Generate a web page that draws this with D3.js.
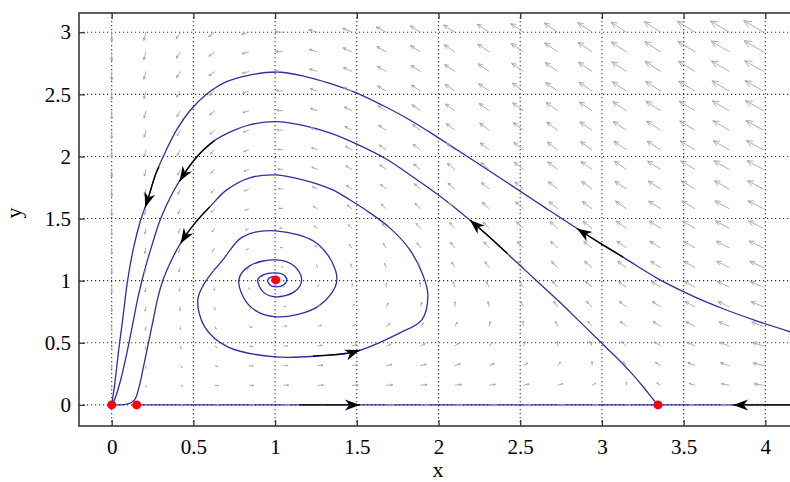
<!DOCTYPE html>
<html>
<head>
<meta charset="utf-8">
<script src="https://cdn.jsdelivr.net/npm/d3@7/dist/d3.min.js"></script>
<style>
  body { margin: 0; background: #fff; }
  text { font-family: "Liberation Serif", "Times New Roman", serif; }
</style>
</head>
<body>
<div id="chart"></div>
<script>
var svgWidth = 790;
var svgHeight = 482;

// plot box (right side runs off the picture, like the original)
var margin = { top: 13, left: 79 };
var width = 719;
var height = 413;

// tick labels
var xTicks = [0, 0.5, 1, 1.5, 2, 2.5, 3, 3.5, 4];
var yTicks = [0, 0.5, 1, 1.5, 2, 2.5, 3];

// equilibrium points
var equilibria = [[0, 0], [0.153, 0], [3.343, 0], [1.004, 1.006]];

// trajectories, in the direction of motion
var outerPath = [
  [4.152, 0.588], [3.95, 0.675], [3.75, 0.77], [3.55, 0.88], [3.35, 1.01],
  [3.129, 1.19], [2.884, 1.39], [2.65, 1.59], [2.42, 1.79], [2.2, 1.98],
  [2.0, 2.15], [1.83, 2.29], [1.66, 2.41], [1.5, 2.51], [1.33, 2.59],
  [1.18, 2.645], [1.01, 2.68], [0.845, 2.655], [0.70, 2.60], [0.58, 2.50],
  [0.48, 2.37], [0.40, 2.22], [0.33, 2.04], [0.27, 1.86], [0.22, 1.65],
  [0.178, 1.49], [0.135, 1.272], [0.098, 1.006], [0.067, 0.684], [0.043, 0.443],
  [0.018, 0.161], [0, 0]
];

var saddlePath = [
  [3.343, 0], [3.31, 0.05], [3.25, 0.15], [3.15, 0.30], [3.02, 0.47],
  [2.88, 0.65], [2.74, 0.83], [2.60, 1.00], [2.46, 1.17], [2.33, 1.33],
  [2.19, 1.49], [2.03, 1.66], [1.86, 1.82], [1.68, 1.98], [1.50, 2.10],
  [1.335, 2.19], [1.17, 2.25], [1.01, 2.28], [0.845, 2.255], [0.73, 2.20],
  [0.62, 2.12], [0.53, 2.01], [0.447, 1.868], [0.37, 1.70], [0.30, 1.50],
  [0.25, 1.30], [0.205, 1.10], [0.165, 0.89], [0.13, 0.66], [0.095, 0.43],
  [0.055, 0.20], [0.02, 0.05], [0, 0]
];

var spiralPath = [
  [1.004, 1.006], [1.004, 1.031], [0.980, 1.031], [0.955, 1.006], [0.969, 0.966],
  [1.004, 0.950], [1.052, 0.966], [1.072, 1.006], [1.052, 1.047], [1.004, 1.063],
  [0.927, 1.047], [0.894, 1.006], [0.927, 0.910], [1.004, 0.870], [1.117, 0.910],
  [1.163, 1.006], [1.117, 1.119], [1.004, 1.167], [0.844, 1.119], [0.778, 1.006],
  [0.844, 0.797], [1.004, 0.709], [1.268, 0.797], [1.378, 1.006], [1.268, 1.288],
  [1.004, 1.401], [0.802, 1.353], [0.680, 1.167], [0.569, 0.982], [0.527, 0.845],
  [0.569, 0.628], [0.710, 0.467], [1.004, 0.386], [1.274, 0.395], [1.488, 0.427],
  [1.764, 0.580], [1.898, 0.684], [1.935, 0.886], [1.904, 1.047], [1.825, 1.248],
  [1.702, 1.425], [1.580, 1.546], [1.457, 1.651], [1.353, 1.731], [1.170, 1.812],
  [1.004, 1.852], [0.845, 1.828], [0.704, 1.731], [0.60, 1.594], [0.52, 1.48],
  [0.45, 1.36], [0.395, 1.24], [0.35, 1.12], [0.31, 0.99], [0.28, 0.85],
  [0.255, 0.69], [0.225, 0.50], [0.195, 0.31], [0.165, 0.13], [0.14, 0.04],
  [0.10, 0.008], [0.05, 0], [0, 0]
];

var axisRight = [[0.153, 0], [3.343, 0]];
var axisLeft = [[4.2, 0], [3.343, 0]];

// black direction arrows, drawn along the trajectory; last point is the tip
var arrowMarks = [
  [[1.151, 0], [1.519, 0]],
  [[1.231, 0.393], [1.36, 0.405], [1.488, 0.427], [1.519, 0.441]],
  [[4.152, 0], [3.803, 0]],
  [[2.42, 1.22], [2.33, 1.33], [2.192, 1.488]],
  [[3.129, 1.19], [2.99, 1.30], [2.847, 1.42]],
  [[0.289, 1.916], [0.27, 1.86], [0.22, 1.65], [0.205, 1.59]],
  [[0.63, 2.128], [0.53, 2.01], [0.447, 1.868], [0.415, 1.80]],
  [[0.60, 1.594], [0.52, 1.48], [0.45, 1.36], [0.422, 1.30]]
];

// direction field grid
var quiverX = [0, 0.21, 0.42, 0.63, 0.84, 1.05, 1.26, 1.47, 1.68, 1.89,
  2.1, 2.31, 2.52, 2.73, 2.94, 3.15, 3.36, 3.57, 3.78, 3.99];
var quiverY = [0, 0.158, 0.316, 0.474, 0.632, 0.789, 0.947, 1.105, 1.263, 1.421,
  1.579, 1.737, 1.895, 2.053, 2.211, 2.368, 2.526, 2.684, 2.842, 3];

// field components, one row per quiverY value
var quiverU = [
  [0, .05, .27, .53, .80, 1.06, 1.28, 1.47, 1.60, 1.68, 1.68, 1.62, 1.47, 1.24, .91, .50, -.03, -.65, -1.39, -2.24],
  [0, .01, .20, .43, .67, .89, 1.08, 1.24, 1.34, 1.38, 1.35, 1.25, 1.07, .81, .45, 0, -.56, -1.22, -1.99, -2.87],
  [0, -.02, .14, .34, .54, .73, .89, 1.0, 1.07, 1.08, 1.02, .89, .67, .38, -.01, -.5, -1.09, -1.78, -2.58, -3.5],
  [0, -.05, .07, .24, .41, .56, .69, .77, .81, .78, .69, .52, .28, -.06, -.48, -1.0, -1.62, -2.34, -3.18, -4.13],
  [0, -.08, .01, .14, .27, .39, .49, .54, .54, .48, .36, .16, -.12, -.49, -.94, -1.49, -2.15, -2.91, -3.78, -4.76],
  [0, -.12, -.06, .04, .14, .23, .29, .31, .27, .18, .03, -.21, -.52, -.92, -1.41, -1.99, -2.68, -3.47, -4.38, -5.39],
  [0, -.15, -.13, -.06, .01, .06, .09, .07, .01, -.12, -.31, -.57, -.92, -1.35, -1.87, -2.49, -3.21, -4.04, -4.97, -6.02],
  [0, -.18, -.19, -.16, -.13, -.1, -.11, -.16, -.26, -.41, -.64, -.94, -1.32, -1.78, -2.34, -2.99, -3.74, -4.6, -5.57, -6.65],
  [0, -.22, -.26, -.26, -.26, -.27, -.31, -.39, -.52, -.71, -.97, -1.3, -1.71, -2.21, -2.8, -3.48, -4.27, -5.16, -6.17, -7.28],
  [0, -.25, -.33, -.36, -.39, -.44, -.51, -.62, -.79, -1.01, -1.3, -1.67, -2.11, -2.64, -3.26, -3.98, -4.8, -5.73, -6.76, -7.91],
  [0, -.28, -.39, -.46, -.52, -.6, -.71, -.85, -1.05, -1.31, -1.63, -2.03, -2.51, -3.07, -3.73, -4.48, -5.33, -6.29, -7.36, -8.54],
  [0, -.32, -.46, -.56, -.66, -.77, -.9, -1.09, -1.32, -1.61, -1.96, -2.39, -2.91, -3.51, -4.19, -4.98, -5.86, -6.85, -7.96, -9.17],
  [0, -.35, -.52, -.66, -.79, -.93, -1.1, -1.32, -1.58, -1.91, -2.3, -2.76, -3.31, -3.94, -4.66, -5.47, -6.39, -7.42, -8.55, -9.8],
  [0, -.38, -.59, -.76, -.92, -1.1, -1.3, -1.55, -1.85, -2.2, -2.63, -3.12, -3.7, -4.37, -5.12, -5.97, -6.92, -7.98, -9.15, -10.43],
  [0, -.42, -.66, -.86, -1.05, -1.26, -1.5, -1.78, -2.11, -2.5, -2.96, -3.49, -4.1, -4.8, -5.59, -6.47, -7.45, -8.55, -9.75, -11.06],
  [0, -.45, -.72, -.96, -1.19, -1.43, -1.7, -2.01, -2.38, -2.8, -3.29, -3.85, -4.5, -5.23, -6.05, -6.97, -7.98, -9.11, -10.34, -11.69],
  [0, -.48, -.79, -1.06, -1.32, -1.6, -1.9, -2.25, -2.64, -3.1, -3.62, -4.22, -4.9, -5.66, -6.51, -7.46, -8.52, -9.67, -10.94, -12.32],
  [0, -.52, -.86, -1.16, -1.45, -1.76, -2.1, -2.48, -2.91, -3.4, -3.95, -4.58, -5.3, -6.09, -6.98, -7.96, -9.05, -10.24, -11.54, -12.95],
  [0, -.55, -.92, -1.26, -1.58, -1.93, -2.3, -2.71, -3.17, -3.7, -4.28, -4.95, -5.69, -6.52, -7.44, -8.46, -9.58, -10.8, -12.13, -13.58],
  [0, -.58, -.99, -1.36, -1.72, -2.09, -2.5, -2.94, -3.44, -3.99, -4.62, -5.31, -6.09, -6.95, -7.91, -8.96, -10.11, -11.36, -12.73, -14.21]
];

var quiverV = [
  [0, 0, 0, 0, 0, 0, 0, 0, 0, 0, 0, 0, 0, 0, 0, 0, 0, 0, 0, 0],
  [-.19, -.15, -.11, -.07, -.03, .01, .05, .09, .13, .17, .21, .25, .29, .33, .37, .41, .45, .49, .53, .57],
  [-.38, -.3, -.22, -.14, -.06, .02, .1, .18, .26, .34, .42, .5, .58, .66, .74, .81, .89, .97, 1.05, 1.13],
  [-.57, -.45, -.33, -.21, -.09, .03, .15, .27, .39, .51, .63, .74, .86, .98, 1.1, 1.22, 1.34, 1.46, 1.58, 1.7],
  [-.76, -.6, -.44, -.28, -.12, .04, .2, .36, .52, .67, .83, .99, 1.15, 1.31, 1.47, 1.63, 1.79, 1.95, 2.11, 2.27],
  [-.95, -.75, -.55, -.35, -.15, .05, .25, .45, .64, .84, 1.04, 1.24, 1.44, 1.64, 1.84, 2.04, 2.24, 2.43, 2.63, 2.83],
  [-1.14, -.9, -.66, -.42, -.18, .06, .3, .53, .77, 1.01, 1.25, 1.49, 1.73, 1.97, 2.21, 2.44, 2.68, 2.92, 3.16, 3.4],
  [-1.33, -1.05, -.77, -.49, -.21, .07, .35, .62, .9, 1.18, 1.46, 1.74, 2.02, 2.29, 2.57, 2.85, 3.13, 3.41, 3.69, 3.97],
  [-1.52, -1.2, -.88, -.56, -.24, .08, .39, .71, 1.03, 1.35, 1.67, 1.99, 2.3, 2.62, 2.94, 3.26, 3.58, 3.9, 4.21, 4.53],
  [-1.71, -1.35, -.99, -.63, -.27, .09, .44, .8, 1.16, 1.52, 1.88, 2.23, 2.59, 2.95, 3.31, 3.67, 4.02, 4.38, 4.74, 5.1],
  [-1.9, -1.5, -1.1, -.7, -.3, .1, .49, .89, 1.29, 1.69, 2.08, 2.48, 2.88, 3.28, 3.68, 4.07, 4.47, 4.87, 5.27, 5.67],
  [-2.08, -1.65, -1.21, -.77, -.33, .1, .54, .98, 1.42, 1.85, 2.29, 2.73, 3.17, 3.61, 4.04, 4.48, 4.92, 5.36, 5.79, 6.23],
  [-2.27, -1.8, -1.32, -.84, -.36, .11, .59, 1.07, 1.55, 2.02, 2.5, 2.98, 3.46, 3.93, 4.41, 4.89, 5.37, 5.84, 6.32, 6.8],
  [-2.46, -1.95, -1.43, -.91, -.39, .12, .64, 1.16, 1.67, 2.19, 2.71, 3.23, 3.74, 4.26, 4.78, 5.3, 5.81, 6.33, 6.85, 7.36],
  [-2.65, -2.1, -1.54, -.98, -.42, .13, .69, 1.25, 1.8, 2.36, 2.92, 3.47, 4.03, 4.59, 5.15, 5.7, 6.26, 6.82, 7.37, 7.93],
  [-2.84, -2.25, -1.65, -1.05, -.45, .14, .74, 1.34, 1.93, 2.53, 3.13, 3.72, 4.32, 4.92, 5.51, 6.11, 6.71, 7.3, 7.9, 8.5],
  [-3.03, -2.4, -1.76, -1.12, -.48, .15, .79, 1.43, 2.06, 2.7, 3.33, 3.97, 4.61, 5.24, 5.88, 6.52, 7.16, 7.79, 8.43, 9.06],
  [-3.22, -2.54, -1.87, -1.19, -.52, .16, .84, 1.51, 2.19, 2.87, 3.54, 4.22, 4.9, 5.57, 6.25, 6.93, 7.6, 8.28, 8.95, 9.63],
  [-3.41, -2.69, -1.98, -1.26, -.55, .17, .89, 1.6, 2.32, 3.03, 3.75, 4.47, 5.18, 5.9, 6.62, 7.33, 8.05, 8.76, 9.48, 10.2],
  [-3.6, -2.84, -2.09, -1.33, -.58, .18, .94, 1.69, 2.45, 3.2, 3.96, 4.72, 5.47, 6.23, 6.98, 7.74, 8.5, 9.25, 10.01, 10.76]
];

var svg = d3.select("#chart")
  .append("svg")
  .attr("width", svgWidth)
  .attr("height", svgHeight);

svg.append("defs").append("clipPath")
  .attr("id", "plotClip")
  .append("rect")
  .attr("width", width)
  .attr("height", height);

var chartGroup = svg.append("g")
  .attr("transform", `translate(${margin.left}, ${margin.top})`);

var xScale = d3.scaleLinear().domain([-0.2, 4.2]).range([0, width]);
var yScale = d3.scaleLinear().domain([-0.17, 3.155]).range([height, 0]);

// dotted grid
chartGroup.append("g").selectAll("line")
  .data(xTicks)
  .enter()
  .append("line")
  .attr("x1", d => xScale(d)).attr("x2", d => xScale(d))
  .attr("y1", 0).attr("y2", height)
  .attr("stroke", "#333")
  .attr("stroke-width", 1.1)
  .attr("stroke-dasharray", "1.2,2.8");

chartGroup.append("g").selectAll("line")
  .data(yTicks)
  .enter()
  .append("line")
  .attr("x1", 0).attr("x2", width)
  .attr("y1", d => yScale(d)).attr("y2", d => yScale(d))
  .attr("stroke", "#333")
  .attr("stroke-width", 1.1)
  .attr("stroke-dasharray", "1.2,2.8");

var plot = chartGroup.append("g").attr("clip-path", "url(#plotClip)");

// trajectories
var line = d3.line()
  .x(d => xScale(d[0]))
  .y(d => yScale(d[1]))
  .curve(d3.curveCatmullRom.alpha(0.5));

[outerPath, saddlePath, spiralPath, axisRight, axisLeft].forEach(function(path) {
  plot.append("path")
    .attr("d", line(path))
    .attr("fill", "none")
    .attr("stroke", "#2e2e9e")
    .attr("stroke-width", 1.3);
});

// direction field (quiver)
var quiverData = [];
quiverY.forEach(function(qy, i) {
  quiverX.forEach(function(qx, j) {
    var du = xScale(quiverU[i][j]) - xScale(0);
    var dv = yScale(quiverV[i][j]) - yScale(0);
    quiverData.push({ x: qx, y: qy, du: du, dv: dv, m: Math.hypot(du, dv) });
  });
});

var lenScale = d3.scaleSqrt()
  .domain([0, d3.max(quiverData, d => d.m)])
  .range([0, 23]);

function quiverPath(d) {
  if (d.m === 0) return null;
  var x0 = xScale(d.x), y0 = yScale(d.y);
  var len = lenScale(d.m);
  var ux = d.du / d.m, uy = d.dv / d.m;
  var x1 = x0 + ux * len, y1 = y0 + uy * len;
  var h = len * 0.36, a = 0.42;
  var c = Math.cos(a), s = Math.sin(a);
  var hx1 = x1 - h * (ux * c - uy * s), hy1 = y1 - h * (ux * s + uy * c);
  var hx2 = x1 - h * (ux * c + uy * s), hy2 = y1 - h * (-ux * s + uy * c);
  return `M${x0},${y0}L${x1},${y1}M${hx1},${hy1}L${x1},${y1}L${hx2},${hy2}`;
}

plot.append("g").selectAll("path")
  .data(quiverData)
  .enter()
  .append("path")
  .attr("d", quiverPath)
  .attr("fill", "none")
  .attr("stroke", "#a4a4a4")
  .attr("stroke-width", 0.9);

// black arrows on trajectories
arrowMarks.forEach(function(pts) {
  var n = pts.length;
  var x0 = xScale(pts[n - 2][0]), y0 = yScale(pts[n - 2][1]);
  var x1 = xScale(pts[n - 1][0]), y1 = yScale(pts[n - 1][1]);
  var ang = Math.atan2(y1 - y0, x1 - x0) * 180 / Math.PI;
  plot.append("path")
    .attr("d", line(pts))
    .attr("fill", "none")
    .attr("stroke", "#000")
    .attr("stroke-width", 1.3);
  plot.append("path")
    .attr("d", "M0,0L-15,-5.5L-10.5,0L-15,5.5Z")
    .attr("transform", `translate(${x1},${y1}) rotate(${ang})`)
    .attr("fill", "#000");
});

// equilibria
plot.selectAll("circle")
  .data(equilibria)
  .enter()
  .append("circle")
  .attr("cx", d => xScale(d[0]))
  .attr("cy", d => yScale(d[1]))
  .attr("r", 4.5)
  .attr("fill", "#f00");

// axes, ticks pointing inward
var bottomAxis = d3.axisBottom(xScale).tickValues(xTicks)
  .tickSizeInner(-6).tickSizeOuter(0).tickPadding(13)
  .tickFormat(d3.format("~g"));
var topAxis = d3.axisTop(xScale).tickValues(xTicks)
  .tickSizeInner(-6).tickSizeOuter(0).tickFormat("");
var leftAxis = d3.axisLeft(yScale).tickValues(yTicks)
  .tickSizeInner(-6).tickSizeOuter(0).tickPadding(8)
  .tickFormat(d3.format("~g"));

var xAxis = chartGroup.append("g")
  .attr("transform", `translate(0, ${height})`)
  .call(bottomAxis);
chartGroup.append("g").call(topAxis);
var yAxis = chartGroup.append("g").call(leftAxis);

[xAxis, yAxis].forEach(function(g) {
  g.attr("font-family", '"Liberation Serif", "Times New Roman", serif')
    .attr("font-size", 21);
});

chartGroup.selectAll(".domain").remove();
chartGroup.selectAll(".tick line").attr("stroke", "#333").attr("stroke-width", 1.3);
chartGroup.selectAll(".tick text").attr("fill", "#000");

// frame
chartGroup.append("rect")
  .attr("width", width)
  .attr("height", height)
  .attr("fill", "none")
  .attr("stroke", "#3a3a3a")
  .attr("stroke-width", 1.6);

// axis labels
svg.append("text")
  .attr("x", 438)
  .attr("y", 477)
  .attr("text-anchor", "middle")
  .attr("font-size", 22)
  .text("x");

svg.append("text")
  .attr("transform", "translate(21, 213) rotate(-90)")
  .attr("text-anchor", "middle")
  .attr("font-size", 22)
  .text("y");
</script>
</body>
</html>
